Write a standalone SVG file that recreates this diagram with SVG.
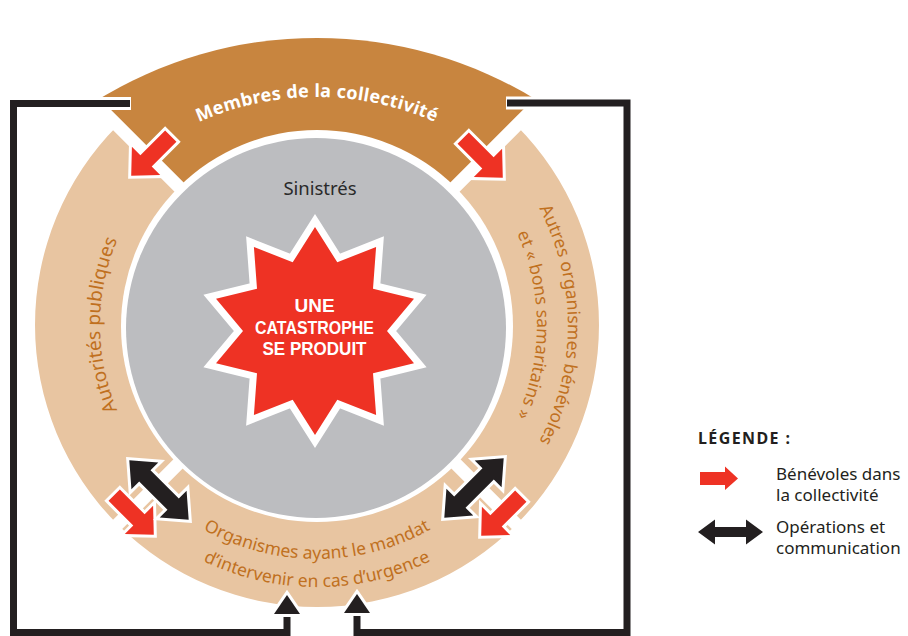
<svg xmlns="http://www.w3.org/2000/svg" xmlns:xlink="http://www.w3.org/1999/xlink" width="908" height="636" viewBox="0 0 908 636">
<style>
.peach{fill:#e8c5a1}
.brown{fill:#c8853f}
.ringtxt{font-family:"Noto Sans","DejaVu Sans",sans-serif;font-size:18px;fill:#c0701e}
.toptxt{font-family:"Noto Sans","DejaVu Sans",sans-serif;font-size:18px;font-weight:bold;fill:#ffffff;letter-spacing:0.3px}
.startxt{font-family:"Liberation Sans",Arial,sans-serif;font-size:19px;font-weight:bold;fill:#ffffff}
.legtxt{font-family:"Noto Sans","DejaVu Sans",sans-serif;font-size:17px;fill:#231f20}
.gap{stroke:#ffffff;stroke-width:13;fill:none}
.redarrow{fill:#ee3224;stroke:#ffffff;stroke-width:6;paint-order:stroke;stroke-linejoin:miter}
.blackarrow{fill:#231f20;stroke:#ffffff;stroke-width:6;paint-order:stroke;stroke-linejoin:miter}
.lineunder{fill:none;stroke:#ffffff;stroke-width:13}
.line{fill:none;stroke:#231f20;stroke-width:7;stroke-linejoin:miter}
</style>
<defs>
<path id="red" d="M -28,-8 H 7 V -20 L 28,0 L 7,20 V 8 H -28 Z"/>
<path id="dbl" d="M -42,0 L -20,-19 V -8 H 20 V -19 L 42,0 L 20,19 V 8 H -20 V 19 Z"/>
<path id="arcTop" d="M 65,242.5 A 291 291 0 0 1 569,242.5"/>
<path id="arcLeft" d="M 260.8,534.6 A 217 217 0 0 1 260.8,115.4"/>
<path id="arcRight1" d="M 382,82.6 A 251 251 0 0 1 382,567.4"/>
<path id="arcRight2" d="M 373.9,112.5 A 220 220 0 0 1 373.9,537.5"/>
<path id="arcBottom1" d="M 114.4,442 A 234 234 0 0 0 519.6,442"/>
<path id="arcBottom2" d="M 90.1,456 A 262 262 0 0 0 543.9,456"/>
</defs>

<g id="node-autorites">
<path class="peach" d="M 117.6,524.4 A 282 282 0 0 1 117.6,125.6 L 182.6,190.6 A 190 190 0 0 0 182.6,459.4 Z"/>
<text class="ringtxt" style="font-size:19px"><textPath xlink:href="#arcLeft" href="#arcLeft" startOffset="50%" text-anchor="middle">Autorités publiques</textPath></text>
</g>
<g id="node-organismes">
<path class="peach" d="M 516.4,524.4 A 282 282 0 0 1 117.6,524.4 L 182.6,459.4 A 190 190 0 0 0 451.4,459.4 Z"/>
<text class="ringtxt" style="font-size:17.5px"><textPath xlink:href="#arcBottom1" href="#arcBottom1" startOffset="50%" text-anchor="middle">Organismes ayant le mandat</textPath></text>
<text class="ringtxt" style="font-size:17.5px"><textPath xlink:href="#arcBottom2" href="#arcBottom2" startOffset="50%" text-anchor="middle">d’intervenir en cas d’urgence</textPath></text>
</g>
<g id="node-autres">
<path class="peach" d="M 516.4,125.6 A 282 282 0 0 1 516.4,524.4 L 451.4,459.4 A 190 190 0 0 0 451.4,190.6 Z"/>
<text class="ringtxt" style="font-size:17.5px"><textPath xlink:href="#arcRight1" href="#arcRight1" startOffset="50%" text-anchor="middle">Autres organismes bénévoles</textPath></text>
<text class="ringtxt" style="font-size:17.5px"><textPath xlink:href="#arcRight2" href="#arcRight2" startOffset="50%" text-anchor="middle">et « bons samaritains »</textPath></text>
</g>
<g id="node-membres">
<path class="brown" d="M 317,325 L 94,102 A 420 420 0 0 1 540,102 Z"/>
<text class="toptxt"><textPath xlink:href="#arcTop" href="#arcTop" startOffset="50%" text-anchor="middle">Membres de la collectivité</textPath></text>
</g>

<g id="separators">
<path class="gap" d="M 317,325 L 77,85 M 317,325 L 557,85 M 317,325 L 77,565 M 317,325 L 557,565"/>
<circle cx="317" cy="326" r="196" fill="#ffffff"/>
</g>

<g id="node-sinistres">
<circle cx="316" cy="328" r="190" fill="#bcbdc0"/>
<text x="320" y="195" text-anchor="middle" font-family="Noto Sans, DejaVu Sans, sans-serif" font-size="18.5" fill="#2a2a2a">Sinistrés</text>
</g>

<g id="node-catastrophe">
<polygon fill="#ee3224" stroke="#ffffff" stroke-width="14" stroke-linejoin="miter" stroke-miterlimit="10" paint-order="stroke" points="315,227 337.3,262.3 376.1,246.9 373,288.8 414,298.8 387,331 414,363.2 373,373.2 376.1,415.1 337.3,399.7 315,435 292.7,399.7 253.9,415.1 257,373.2 216,363.2 243,331 216,298.8 257,288.8 253.9,246.9 292.7,262.3"/>
<text class="startxt" x="314.5" y="312" text-anchor="middle">UNE</text>
<text class="startxt" x="314.5" y="333.5" text-anchor="middle" textLength="119" lengthAdjust="spacingAndGlyphs">CATASTROPHE</text>
<text class="startxt" x="314.5" y="355" text-anchor="middle" textLength="104" lengthAdjust="spacingAndGlyphs">SE PRODUIT</text>
</g>

<g id="connectors">
<path class="lineunder" d="M 131,103.5 H 13.5 V 632.5 H 287 V 612"/>
<path class="lineunder" d="M 506,103 H 627 V 632.5 H 357 V 612"/>
<path class="line" d="M 130,103.5 H 13.5 V 632.5 H 287 V 610"/>
<path class="line" d="M 507,103 H 627 V 632.5 H 357 V 610"/>
<polygon class="blackarrow" points="287,595 300,614 274,614"/>
<polygon class="blackarrow" points="357,594 370,613 344,613"/>
<use href="#red" xlink:href="#red" class="redarrow" transform="translate(151,156) rotate(135)"/>
<use href="#red" xlink:href="#red" class="redarrow" transform="translate(483,158) rotate(45)"/>
<use href="#red" xlink:href="#red" class="redarrow" transform="translate(134,515) rotate(45)"/>
<use href="#red" xlink:href="#red" class="redarrow" transform="translate(501,516) rotate(135)"/>
<use href="#dbl" xlink:href="#dbl" class="blackarrow" transform="translate(159,490) rotate(45)"/>
<use href="#dbl" xlink:href="#dbl" class="blackarrow" transform="translate(474,488) rotate(-45)"/>
</g>

<g id="legend">
<text x="698" y="444" font-family="Noto Sans, DejaVu Sans, sans-serif" font-size="16" font-weight="bold" fill="#231f20" textLength="92">LÉGENDE :</text>
<path fill="#ee3224" d="M 700,472 H 725 V 466.5 L 738,478.5 L 725,490 V 485 H 700 Z"/>
<text class="legtxt" x="776" y="480">Bénévoles dans</text>
<text class="legtxt" x="776" y="501">la collectivité</text>
<path fill="#231f20" d="M 698,532 L 715,519.5 V 527 H 746 V 519.5 L 763,532 L 746,544.5 V 537 H 715 V 544.5 Z"/>
<text class="legtxt" x="776" y="533">Opérations et</text>
<text class="legtxt" x="776" y="554">communication</text>
</g>
</svg>
